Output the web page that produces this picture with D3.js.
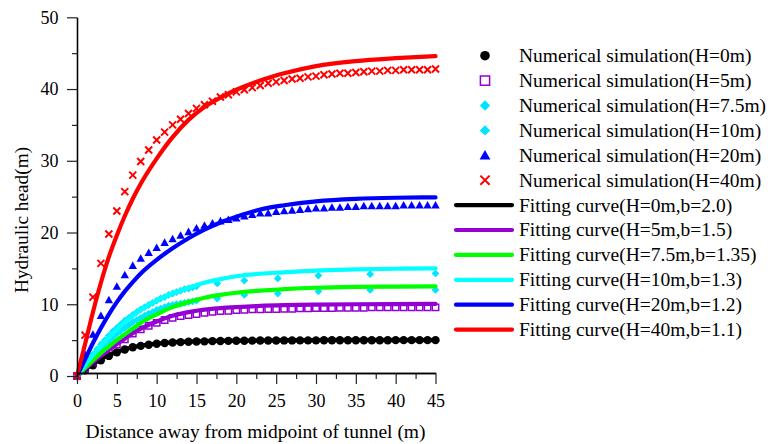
<!DOCTYPE html>
<html>
<head>
<meta charset="utf-8">
<script src="https://cdn.jsdelivr.net/npm/d3@7"></script>
<style>
  html, body { margin: 0; padding: 0; background: #fff; }
  svg { display: block; }
  text { font-family: "Liberation Serif", "Times New Roman", serif; fill: #000; }
</style>
</head>
<body>
<svg id="chart" width="784" height="444"></svg>
<script>
// ---- numerical simulation: integer mesh (m) ----
const meshX = d3.range(0, 46);
const simH0 = [0, 0.8, 1.5, 2.2, 2.8, 3.3, 3.7, 4.0, 4.2, 4.35, 4.5, 4.6, 4.67, 4.72, 4.77, 4.8,
  4.83, 4.86, 4.88, 4.9, 4.91, 4.92, 4.93, 4.94, 4.95, 4.95, 4.96, 4.96, 4.97, 4.97, 4.97,
  4.98, 4.98, 4.98, 4.98, 4.99, 4.99, 4.99, 4.99, 4.99, 5.0, 5.0, 5.0, 5.0, 5.0, 5.0];
const simH5 = [0, 1.0, 1.9, 2.8, 3.6, 4.4, 5.1, 5.9, 6.5, 7.0, 7.4, 7.8, 8.1, 8.35, 8.5, 8.65,
  8.82, 8.96, 9.05, 9.1, 9.19, 9.24, 9.29, 9.29, 9.33, 9.33, 9.38, 9.38, 9.42, 9.42, 9.47,
  9.47, 9.47, 9.52, 9.52, 9.52, 9.52, 9.56, 9.56, 9.56, 9.56, 9.56, 9.56, 9.56, 9.56, 9.56];
const simH20 = [0, 3.0, 5.8, 8.4, 10.6, 12.5, 14.1, 15.4, 16.4, 17.2, 17.9, 18.6, 19.1, 19.6, 20.1, 20.6,
  21.0, 21.3, 21.6, 21.8, 22.0, 22.3, 22.5, 22.7, 22.7, 22.9, 23.0, 23.1, 23.2, 23.3, 23.4,
  23.4, 23.5, 23.5, 23.6, 23.6, 23.7, 23.7, 23.7, 23.7, 23.7, 23.8, 23.8, 23.8, 23.8, 23.8];
const simH40 = [0, 5.7, 11.0, 15.7, 19.8, 23.0, 25.7, 28.0, 29.9, 31.5, 32.9, 34.0, 35.0, 35.8, 36.6, 37.3,
  37.8, 38.3, 38.9, 39.2, 39.6, 39.9, 40.2, 40.5, 40.8, 41.0, 41.2, 41.4, 41.5, 41.7, 41.8,
  42.0, 42.1, 42.2, 42.2, 42.3, 42.4, 42.5, 42.5, 42.6, 42.6, 42.7, 42.7, 42.7, 42.7, 42.8];

// ---- numerical simulation: graded mesh used for H = 7.5 m and 10 m ----
const gradedX = [0, 0.5, 1, 1.5, 2, 2.5, 3, 3.5, 4, 4.5, 5, 5.5, 6, 6.5, 7, 7.5, 8, 8.5, 9, 9.5,
  10, 10.5, 11, 11.5, 12, 12.5, 13, 13.5, 14, 14.5, 15, 17.6, 21.0, 25.2, 30.3, 36.8, 45];
const simH7_5 = [0, 0.7, 1.4, 2.1, 2.7, 3.3, 3.9, 4.4, 4.9, 5.4, 5.9, 6.3, 6.7, 7.1, 7.5, 7.8, 8.1, 8.4,
  8.7, 8.9, 9.2, 9.4, 9.6, 9.8, 9.9, 10.0, 10.1, 10.2, 10.3, 10.4, 10.5, 10.8, 11.3, 11.5, 11.8, 12.0, 12.0];
const simH10 = [0, 0.8, 1.6, 2.3, 3.0, 3.7, 4.4, 5.0, 5.6, 6.2, 6.7, 7.2, 7.7, 8.1, 8.5, 8.9, 9.3, 9.6,
  9.9, 10.2, 10.5, 10.8, 11.0, 11.3, 11.5, 11.7, 11.9, 12.1, 12.2, 12.35, 12.5, 12.9, 13.3, 13.6, 14.0, 14.2, 14.3];

// ---- fitting curves, sampled ----
const fitX = [0, 1, 2, 3, 4, 5, 6, 7, 8, 10, 12, 14, 16, 18, 20, 23, 26, 30, 35, 40, 45];
const fitH0   = [0, 0.9, 1.65, 2.35, 2.9, 3.35, 3.72, 4.0, 4.22, 4.52, 4.7, 4.8, 4.86, 4.9, 4.93, 4.95, 4.97, 4.98, 4.99, 5.0, 5.0];
const fitH5   = [0, 1.0, 1.9, 2.8, 3.6, 4.45, 5.2, 5.95, 6.6, 7.6, 8.4, 8.9, 9.25, 9.45, 9.6, 9.78, 9.88, 9.95, 10.0, 10.03, 10.05];
const fitH7_5 = [0, 1.1, 2.2, 3.2, 4.1, 5.0, 5.8, 6.6, 7.4, 8.6, 9.6, 10.3, 10.9, 11.3, 11.6, 11.9, 12.1, 12.3, 12.42, 12.47, 12.5];
const fitH10  = [0, 1.5, 2.9, 4.2, 5.4, 6.5, 7.5, 8.4, 9.2, 10.5, 11.5, 12.3, 13.0, 13.5, 13.9, 14.25, 14.45, 14.7, 14.85, 14.95, 15.0];
const fitH20  = [0, 2.3, 4.6, 6.7, 8.6, 10.3, 11.8, 13.1, 14.3, 16.2, 17.8, 19.2, 20.4, 21.4, 22.2, 23.2, 23.8, 24.35, 24.7, 24.85, 24.9];
const fitH40  = [0, 4.4, 8.9, 13.0, 16.6, 19.6, 22.3, 24.7, 26.8, 30.3, 33.3, 35.7, 37.5, 38.8, 39.9, 41.2, 42.2, 43.2, 43.9, 44.3, 44.6];

// ---- axes ----
const xMajorTicks = [0, 5, 10, 15, 20, 25, 30, 35, 40, 45];
const xMinorTicks = [2.5, 7.5, 12.5, 17.5, 22.5, 27.5, 32.5, 37.5, 42.5];
const yMajorTicks = [0, 10, 20, 30, 40, 50];
const yMinorTicks = [5, 15, 25, 35, 45];
const xTitle = "Distance away from midpoint of tunnel (m)";
const yTitle = "Hydraulic head(m)";

const simLabels = [
  "Numerical simulation(H=0m)", "Numerical simulation(H=5m)", "Numerical simulation(H=7.5m)",
  "Numerical simulation(H=10m)", "Numerical simulation(H=20m)", "Numerical simulation(H=40m)"
];
const fitLabels = [
  "Fitting curve(H=0m,b=2.0)", "Fitting curve(H=5m,b=1.5)", "Fitting curve(H=7.5m,b=1.35)",
  "Fitting curve(H=10m,b=1.3)", "Fitting curve(H=20m,b=1.2)", "Fitting curve(H=40m,b=1.1)"
];

const C = { black: "#000000", purple: "#9400d3", green: "#00ff00", cyan: "#00ffff",
            diamond: "#00e5ff", blue: "#0000ff", red: "#ff0000" };

const svg = d3.select("#chart");
const x = d3.scaleLinear().domain([0, 45]).range([77, 435.5]);
const y = d3.scaleLinear().domain([0, 50]).range([376, 17.3]);
const xAxisY = 373;

// marker paths centred on the origin
const marker = {
  circle: r => `M${-r},0A${r},${r} 0 1,0 ${r},0A${r},${r} 0 1,0 ${-r},0Z`,
  square: s => `M${-s},${-s}H${s}V${s}H${-s}Z`,
  diamond: s => `M0,${-s}L${s},0L0,${s}L${-s},0Z`,
  triangle: s => `M0,${-s}L${s},${s * 0.8}L${-s},${s * 0.8}Z`,
  cross: s => `M${-s},${-s}L${s},${s}M${-s},${s}L${s},${-s}`
};
const simStyles = [
  { shape: "circle", size: 4.2, legend: 4.8, fill: C.black, stroke: "none", sw: 0 },
  { shape: "square", size: 3.2, legend: 4.6, fill: "none", stroke: C.purple, sw: 1.5 },
  { shape: "diamond", size: 3.9, legend: 5.2, fill: C.diamond, stroke: "none", sw: 0 },
  { shape: "diamond", size: 3.9, legend: 5.2, fill: C.diamond, stroke: "none", sw: 0 },
  { shape: "triangle", size: 4.2, legend: 5.4, fill: C.blue, stroke: "none", sw: 0 },
  { shape: "cross", size: 3.5, legend: 4.6, fill: "none", stroke: C.red, sw: 2 }
];
const simSeries = [
  { xs: meshX, ys: simH0 }, { xs: meshX, ys: simH5 }, { xs: gradedX, ys: simH7_5 },
  { xs: gradedX, ys: simH10 }, { xs: meshX, ys: simH20 }, { xs: meshX, ys: simH40 }
];
const fitSeries = [fitH0, fitH5, fitH7_5, fitH10, fitH20, fitH40];
const fitColors = [C.black, C.purple, C.green, C.cyan, C.blue, C.red];

// ---- scatter series ----
const gSim = svg.append("g");
simSeries.forEach((s, i) => {
  const st = simStyles[i];
  const pts = s.xs.map((xv, k) => [xv, s.ys[k]]);
  gSim.append("g").selectAll("path").data(pts).join("path")
    .attr("transform", d => `translate(${x(d[0])},${y(d[1])})`)
    .attr("d", marker[st.shape](st.size))
    .attr("fill", st.fill)
    .attr("stroke", st.stroke)
    .attr("stroke-width", st.sw);
});

// ---- fitting curves ----
const line = d3.line().x(d => x(d[0])).y(d => y(d[1])).curve(d3.curveMonotoneX);
const gFit = svg.append("g");
fitSeries.forEach((ys, i) => {
  gFit.append("path")
    .datum(fitX.map((xv, k) => [xv, ys[k]]))
    .attr("d", line)
    .attr("fill", "none")
    .attr("stroke", fitColors[i])
    .attr("stroke-width", 4.2)
    .attr("stroke-linecap", "round")
    .attr("stroke-linejoin", "round");
});

// ---- axes ----
const axisStyle = g => {
  g.select(".domain").attr("stroke", "#000").attr("stroke-width", 1.3);
  g.selectAll(".tick line").attr("stroke", "#222").attr("stroke-width", 1.2);
  g.selectAll("text").attr("font-size", 18).attr("font-family", '"Liberation Serif", serif').attr("fill", "#000");
};
svg.append("g").attr("transform", `translate(0,${xAxisY})`)
  .call(d3.axisBottom(x).tickValues(xMinorTicks).tickSize(6).tickSizeOuter(0).tickFormat(""))
  .call(axisStyle);
svg.append("g").attr("transform", `translate(0,${xAxisY})`)
  .call(d3.axisBottom(x).tickValues(xMajorTicks).tickSize(11).tickPadding(10.5).tickSizeOuter(0).tickFormat(d3.format("d")))
  .call(axisStyle);
svg.append("g").attr("transform", `translate(${x(0)},0)`)
  .call(d3.axisLeft(y).tickValues(yMinorTicks).tickSize(5).tickSizeOuter(0).tickFormat(""))
  .call(axisStyle);
svg.append("g").attr("transform", `translate(${x(0)},0)`)
  .call(d3.axisLeft(y).tickValues(yMajorTicks).tickSize(10).tickPadding(8.5).tickSizeOuter(0).tickFormat(d3.format("d")))
  .call(axisStyle);

// axis titles
svg.append("text")
  .attr("x", 255.5).attr("y", 437.5)
  .attr("text-anchor", "middle").attr("font-size", 19.5)
  .text(xTitle);
svg.append("text")
  .attr("transform", "translate(28,220) rotate(-90)")
  .attr("text-anchor", "middle").attr("font-size", 19.3)
  .text(yTitle);

// ---- legend ----
const legX = 485, legTextX = 519, legY0 = 55.7, legStep = 24.9;
const gLeg = svg.append("g");
simLabels.forEach((lab, i) => {
  const st = simStyles[i];
  const cy = legY0 + i * legStep;
  gLeg.append("path")
    .attr("transform", `translate(${legX},${cy})`)
    .attr("d", marker[st.shape](st.legend))
    .attr("fill", st.fill)
    .attr("stroke", st.stroke)
    .attr("stroke-width", st.sw);
  gLeg.append("text").attr("x", legTextX).attr("y", cy + 6.4).attr("font-size", 19.5).text(lab);
});
fitLabels.forEach((lab, i) => {
  const cy = legY0 + (i + 6) * legStep;
  gLeg.append("line")
    .attr("x1", 456).attr("x2", 512).attr("y1", cy).attr("y2", cy)
    .attr("stroke", fitColors[i]).attr("stroke-width", 4.2).attr("stroke-linecap", "round");
  gLeg.append("text").attr("x", legTextX).attr("y", cy + 6.4).attr("font-size", 19.5).text(lab);
});
</script>
</body>
</html>
